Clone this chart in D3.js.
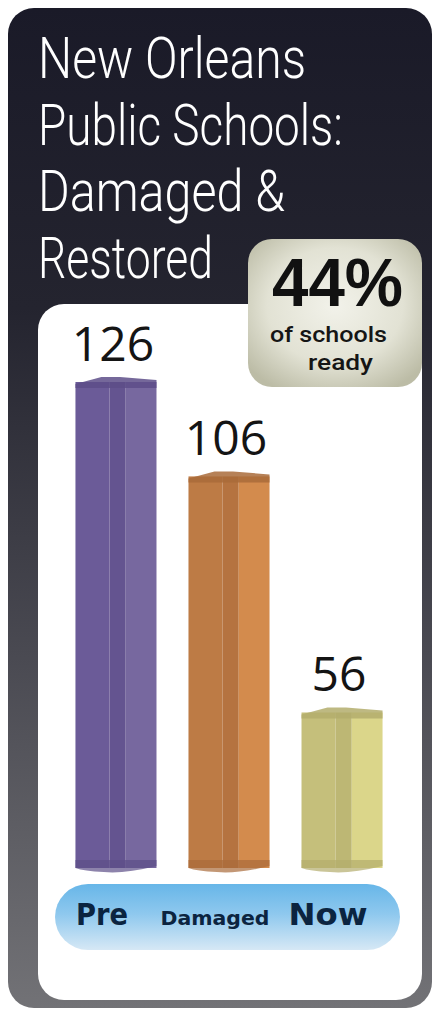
<!DOCTYPE html>
<html>
<head>
<meta charset="utf-8">
<script src="https://cdn.jsdelivr.net/npm/d3@7"></script>
<style>
  html, body { margin: 0; padding: 0; background: #ffffff; }
  svg { display: block; }
</style>
</head>
<body>
<div id="chart"></div>
<script>
// Schools before the storm, damaged, and reopened now
const categories = ["Pre", "Damaged", "Now"];
const schoolCounts = [126, 106, 56];
const valueLabels = ["126", "106", "56"];
const readyShare = "44%";
const titleLines = ["New Orleans", "Public Schools:", "Damaged &", "Restored"];

// Face shades per bar: left face, centre crease, right face, lid
const barShades = [
  ["#6b5b98", "#645490", "#77689f", "#5d4e88"],
  ["#bd7b45", "#b57340", "#d38b4d", "#a96b3a"],
  ["#c5bf7b", "#bdb774", "#dbd68a", "#b3ad6c"]
];

const W = 438, H = 1012;
const svg = d3.select("#chart").append("svg")
  .attr("width", W).attr("height", H);

const defs = svg.append("defs");

const frameGrad = defs.append("linearGradient")
  .attr("id", "frameGrad").attr("x1", 0).attr("y1", 0).attr("x2", 0).attr("y2", 1);
frameGrad.append("stop").attr("offset", "0%").attr("stop-color", "#1a1a28");
frameGrad.append("stop").attr("offset", "30%").attr("stop-color", "#24242f");
frameGrad.append("stop").attr("offset", "65%").attr("stop-color", "#4a4a52");
frameGrad.append("stop").attr("offset", "100%").attr("stop-color", "#727276");

const badgeGrad = defs.append("radialGradient")
  .attr("id", "badgeGrad").attr("cx", "50%").attr("cy", "45%").attr("r", "65%");
badgeGrad.append("stop").attr("offset", "0%").attr("stop-color", "#f2f2ea");
badgeGrad.append("stop").attr("offset", "60%").attr("stop-color", "#e2e2d4");
badgeGrad.append("stop").attr("offset", "100%").attr("stop-color", "#bcbca6");

const pillGrad = defs.append("linearGradient")
  .attr("id", "pillGrad").attr("x1", 0).attr("y1", 0).attr("x2", 0).attr("y2", 1);
pillGrad.append("stop").attr("offset", "0%").attr("stop-color", "#67b6e8");
pillGrad.append("stop").attr("offset", "45%").attr("stop-color", "#8ec8ee");
pillGrad.append("stop").attr("offset", "100%").attr("stop-color", "#d6e8f5");

// Dark outer frame
svg.append("rect")
  .attr("x", 8).attr("y", 8).attr("width", 424).attr("height", 1000)
  .attr("rx", 26).attr("fill", "url(#frameGrad)");

// White plotting panel
svg.append("rect")
  .attr("x", 38).attr("y", 304).attr("width", 384).attr("height", 696)
  .attr("rx", 26).attr("fill", "#ffffff");

// Title, set light and condensed
const titleG = svg.append("g").attr("fill", "#ffffff")
  .style("font-family", "Roboto, 'Open Sans', sans-serif")
  .style("font-weight", 300).style("font-size", "57px");
const titleWidths = [268, 305, 247, 175];
titleG.selectAll("text").data(titleLines).join("text")
  .attr("x", 38)
  .attr("y", (d, i) => 78 + i * 66.5)
  .attr("textLength", (d, i) => titleWidths[i])
  .attr("lengthAdjust", "spacingAndGlyphs")
  .text(d => d);

// Scales
const x = d3.scaleBand()
  .domain(categories)
  .range([58.5, 399.5])
  .paddingInner(0.283)
  .paddingOuter(0.15);

const baseY = 868;
const y = d3.scaleLinear()
  .domain([22, 126])
  .range([baseY, 377]);

const data = categories.map((c, i) => ({ cat: c, value: schoolCounts[i], label: valueLabels[i], shade: barShades[i] }));

// Bars, drawn as shaded prisms
const bars = svg.append("g").selectAll("g").data(data).join("g");

bars.each(function(d) {
  const g = d3.select(this);
  const x0 = x(d.cat), w = x.bandwidth();
  const top = y(d.value);
  const s = d.shade;
  // left face
  g.append("rect").attr("x", x0).attr("y", top + 5).attr("width", w * 0.42)
    .attr("height", baseY - top - 5).attr("fill", s[0]);
  // crease
  g.append("rect").attr("x", x0 + w * 0.42).attr("y", top + 5).attr("width", w * 0.2)
    .attr("height", baseY - top - 5).attr("fill", s[1]);
  // right face
  g.append("rect").attr("x", x0 + w * 0.62).attr("y", top + 5).attr("width", w * 0.38)
    .attr("height", baseY - top - 5).attr("fill", s[2]);
  // lid
  g.append("path")
    .attr("d", `M${x0},${top + 7} L${x0 + w * 0.32},${top} L${x0 + w * 0.55},${top}
                L${x0 + w},${top + 3} L${x0 + w},${top + 11} L${x0},${top + 11} Z`)
    .attr("fill", s[3]).attr("opacity", 0.85);
  // rounded foot
  g.append("path")
    .attr("d", `M${x0},${baseY - 8} L${x0 + w},${baseY - 8} L${x0 + w},${baseY - 2}
                Q${x0 + w * 0.6},${baseY + 6} ${x0 + w * 0.35},${baseY + 4}
                Q${x0 + w * 0.1},${baseY + 3} ${x0},${baseY} Z`)
    .attr("fill", s[3]).attr("opacity", 0.7);
});

// Value labels above each bar
svg.append("g")
  .style("font-family", "'Open Sans', 'DejaVu Sans', sans-serif")
  .style("font-weight", 400).style("font-size", "48px")
  .selectAll("text").data(data).join("text")
  .attr("x", d => x(d.cat) + x.bandwidth() / 2 - 3)
  .attr("y", d => y(d.value) - 16)
  .attr("text-anchor", "middle")
  .attr("fill", "#141414")
  .text(d => d.label);

// Share badge
const badge = svg.append("g");
badge.append("rect")
  .attr("x", 248).attr("y", 239).attr("width", 174).attr("height", 148)
  .attr("rx", 24).attr("fill", "url(#badgeGrad)");
badge.append("text")
  .attr("x", 272).attr("y", 306)
  .attr("textLength", 131).attr("lengthAdjust", "spacingAndGlyphs")
  .style("font-family", "'Liberation Sans', Arial, sans-serif")
  .style("font-weight", 700).style("font-size", "69px")
  .attr("fill", "#111111")
  .text(readyShare);
badge.append("text")
  .attr("x", 270).attr("y", 342)
  .attr("textLength", 117).attr("lengthAdjust", "spacingAndGlyphs")
  .style("font-family", "Roboto, 'Open Sans', sans-serif")
  .style("font-weight", 500).style("font-size", "22px")
  .attr("fill", "#151515")
  .text("of schools");
badge.append("text")
  .attr("x", 308).attr("y", 370)
  .attr("textLength", 65).attr("lengthAdjust", "spacingAndGlyphs")
  .style("font-family", "Roboto, 'Open Sans', sans-serif")
  .style("font-weight", 500).style("font-size", "22px")
  .attr("fill", "#151515")
  .text("ready");

// Category pill along the base
svg.append("rect")
  .attr("x", 55).attr("y", 884).attr("width", 345).attr("height", 66)
  .attr("rx", 33).attr("fill", "url(#pillGrad)");

const catSizes = { Pre: 31, Damaged: 19, Now: 31 };
const catWidths = { Pre: 52, Damaged: 109, Now: 79 };
svg.append("g")
  .style("font-family", "'DejaVu Sans', Verdana, sans-serif")
  .style("font-weight", 700)
  .selectAll("text").data(categories).join("text")
  .attr("x", d => x(d) + x.bandwidth() / 2 - 14)
  .attr("y", 925)
  .attr("text-anchor", "middle")
  .attr("textLength", d => catWidths[d])
  .attr("lengthAdjust", "spacingAndGlyphs")
  .style("font-size", d => catSizes[d] + "px")
  .attr("fill", "#0b2440")
  .text(d => d);
</script>
</body>
</html>
